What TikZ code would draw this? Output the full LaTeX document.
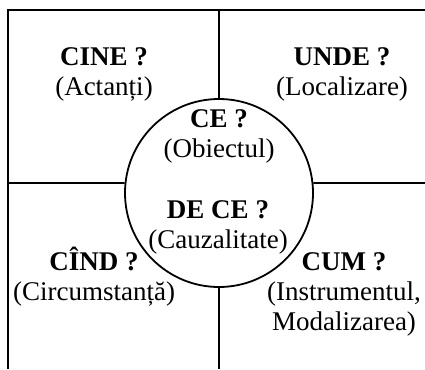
\documentclass[tikz,border=0pt]{standalone}
\usepackage{fontspec}
\setmainfont{Liberation Serif}
\tikzstyle{question} = [align=center, inner sep=0pt, anchor=base,
   font=\fontsize{27}{30}\selectfont]
\tikzstyle{line} = [draw, line width=1.8pt]
\tikzstyle{hub} = [circle, draw, line width=1.8pt, minimum size=188pt, inner sep=0pt]

\begin{document}
\begin{tikzpicture}[x=1pt, y=-1pt]
\useasboundingbox (0,0) rectangle (425,369);
% Place nodes
\node [hub] (core) at (219,193) {};
\coordinate (topleft) at (8,10);
\coordinate (topright) at (425,10);
\coordinate (bottomleft) at (8,369);
\coordinate (topmid) at (219,10);
\coordinate (bottommid) at (219,369);
\coordinate (midleft) at (8,183);
\coordinate (midright) at (425,183);
\node [question] (cine) at (104,95) {\textbf{CINE ?}\\(Actanți)};
\node [question] (unde) at (342,95) {\textbf{UNDE ?}\\(Localizare)};
\node [question] (ce) at (219,157) {\textbf{CE ?}\\(Obiectul)};
\node [question] (dece) at (218,248) {\textbf{DE CE ?}\\(Cauzalitate)};
\node [question] (cind) at (94,300) {\textbf{CÎND ?}\\(Circumstanță)};
\node [question] (cum) at (344,330) {\textbf{CUM ?}\\(Instrumentul,\\Modalizarea)};
% Draw edges
\path [line] (topright) -- (topleft) -- (bottomleft);
\path [line] (topmid) -- (core.north);
\path [line] (core.south) -- (bottommid);
\path [line] (midleft) -- (core.174);
\path [line] (core.6) -- (midright);
\end{tikzpicture}
\end{document}
